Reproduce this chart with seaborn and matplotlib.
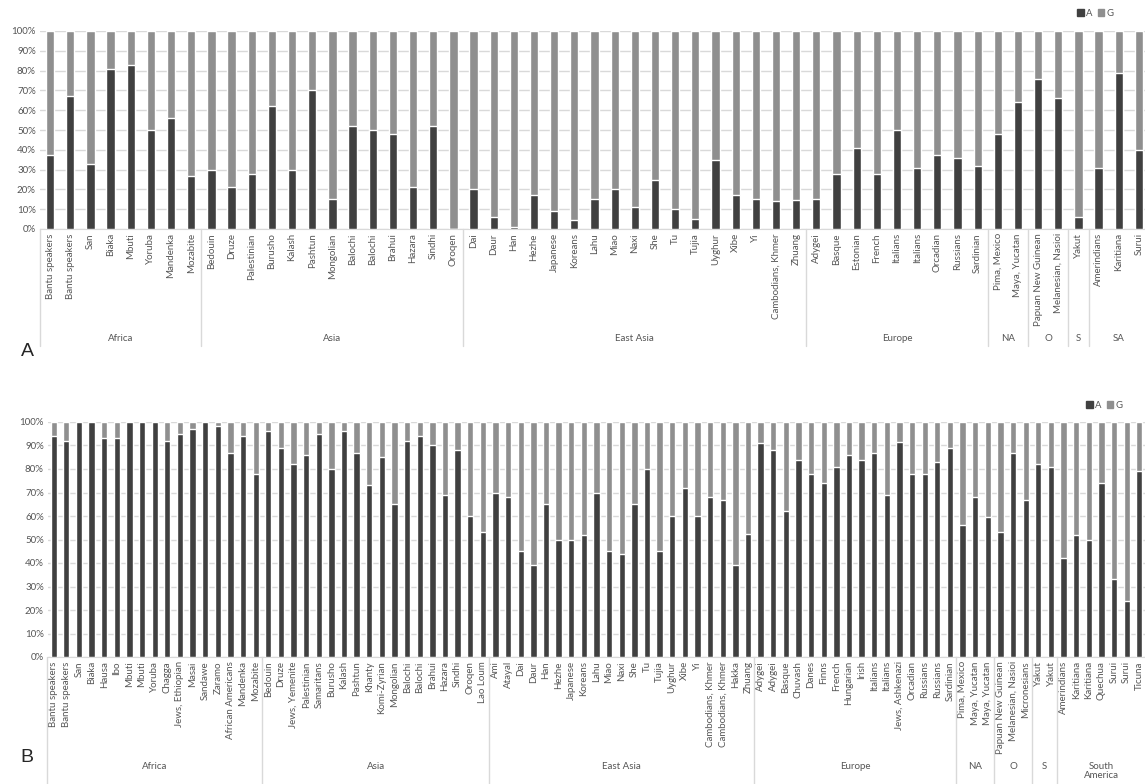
import pandas as pd
import numpy as np
import matplotlib.pyplot as plt
import seaborn as sns
from matplotlib.patches import Patch
from matplotlib.transforms import blended_transform_factory

# ---------------- Panel A data ----------------
a_groups = ["Africa", "Asia", "East Asia", "Europe", "NA", "O", "S", "SA"]
a_group_sizes = [8, 13, 17, 9, 2, 2, 1, 3]
a_labels = [
    "Bantu speakers", "Bantu speakers", "San", "Biaka", "Mbuti", "Yoruba", "Mandenka", "Mozabite",
    "Bedouin", "Druze", "Palestinian", "Burusho", "Kalash", "Pashtun", "Mongolian", "Balochi",
    "Balochi", "Brahui", "Hazara", "Sindhi", "Oroqen",
    "Dai", "Daur", "Han", "Hezhe", "Japanese", "Koreans", "Lahu", "Miao", "Naxi", "She", "Tu",
    "Tujia", "Uyghur", "Xibe", "Yi", "Cambodians, Khmer", "Zhuang",
    "Adygei", "Basque", "Estonian", "French", "Italians", "Italians", "Orcadian", "Russians", "Sardinian",
    "Pima, Mexico", "Maya, Yucatan",
    "Papuan New Guinean", "Melanesian, Nasioi",
    "Yakut",
    "Amerindians", "Karitiana", "Surui",
]
a_values = [
    37.5, 67, 33, 81, 83, 50, 56, 27,
    30, 21, 28, 62, 30, 70, 15, 52, 50, 48, 21, 52, 0,
    20, 6, 1, 17, 9, 4.5, 15, 20, 11, 25, 10, 5, 35, 17, 15, 14, 14.5,
    15, 28, 41, 28, 50, 31, 37.5, 36, 32,
    48, 64,
    76, 66,
    6,
    31, 79, 40,
]

# ---------------- Panel B data ----------------
b_groups = ["Africa", "Asia", "East Asia", "Europe", "NA", "O", "S", "South\nAmerica"]
b_group_sizes = [17, 18, 21, 16, 3, 3, 2, 7]
b_labels = [
    "Bantu speakers", "Bantu speakers", "San", "Biaka", "Hausa", "Ibo", "Mbuti", "Mbuti", "Yoruba",
    "Chagga", "Jews, Ethiopian", "Masai", "Sandawe", "Zaramo", "African Americans", "Mandenka", "Mozabite",
    "Bedouin", "Druze", "Jews, Yemenite", "Palestinian", "Samaritans", "Burusho", "Kalash", "Pashtun",
    "Khanty", "Komi-Zyrian", "Mongolian", "Balochi", "Balochi", "Brahui", "Hazara", "Sindhi", "Oroqen",
    "Lao Loum",
    "Ami", "Atayal", "Dai", "Daur", "Han", "Hezhe", "Japanese", "Koreans", "Lahu", "Miao", "Naxi",
    "She", "Tu", "Tujia", "Uyghur", "Xibe", "Yi", "Cambodians, Khmer", "Cambodians, Khmer", "Hakka", "Zhuang",
    "Adygei", "Adygei", "Basque", "Chuvash", "Danes", "Finns", "French", "Hungarian", "Irish",
    "Italians", "Italians", "Jews, Ashkenazi", "Orcadian", "Russians", "Russians", "Sardinian",
    "Pima, Mexico", "Maya, Yucatan", "Maya, Yucatan",
    "Papuan New Guinean", "Melanesian, Nasioi", "Micronesians",
    "Yakut", "Yakut",
    "Amerindians", "Karitiana", "Karitiana", "Quechua", "Surui", "Surui", "Ticuna",
]
b_values = [
    94, 92, 100, 100, 93, 93, 100, 100, 100, 92, 95, 97, 100, 98.5, 87, 94, 78,
    96, 89, 82, 86, 95, 80, 96, 87, 73, 85, 65, 92, 94, 90, 69, 88, 60, 53,
    70, 68, 45, 39, 65, 50, 50, 52, 70, 45, 44, 65, 80, 45, 60, 72, 60, 68, 67, 39, 52.5,
    91, 88, 62, 84, 78, 74, 81, 86, 84, 87, 69, 91.5, 78, 78, 83, 89,
    56, 68, 59.5,
    53, 87, 67,
    82, 81,
    42, 52, 50, 74, 33, 24, 79,
]

DARK = "#404040"
LIGHT = "#8f8f8f"
GRID = "#d9d9d9"
TXT = "#555555"

sns.set_style("white")
plt.rcParams["font.family"] = ["Lato", "DejaVu Sans"]

fig = plt.figure(figsize=(11.45, 7.84), dpi=100)


def draw_panel(ax, labels, values, groups, sizes, bar_w, xlim, grp_text_y, grp_line_y, fs):
    n = len(labels)
    df = pd.DataFrame({
        "key": [str(i) for i in range(n)],
        "A": values,
        "total": [100] * n,
    })
    sns.barplot(data=df, x="key", y="total", color=LIGHT, width=bar_w,
                saturation=1, ax=ax, zorder=2)
    sns.barplot(data=df, x="key", y="A", color=DARK, width=bar_w,
                saturation=1, ax=ax, zorder=3)
    ax.set_ylim(0, 100)
    ax.set_xlim(*xlim)
    ax.set_yticks(np.arange(0, 101, 10))
    ax.set_yticklabels([f"{v}%" for v in range(0, 101, 10)], fontsize=fs, color=TXT)
    ax.set_xticks(range(n))
    ax.set_xticklabels(labels, rotation=90, fontsize=fs, color=TXT)
    ax.tick_params(axis="both", length=0, pad=3)
    ax.set_xlabel("")
    ax.set_ylabel("")
    ax.grid(axis="y", color=GRID, linewidth=1, zorder=0)
    ax.set_axisbelow(True)
    for s in ["left", "right", "top"]:
        ax.spines[s].set_visible(False)
    ax.spines["bottom"].set_color(GRID)

    # multi-level category axis
    tr = blended_transform_factory(ax.transData, ax.transAxes)
    start = 0
    bounds = [-0.5]
    for g, sz in zip(groups, sizes):
        center = start + (sz - 1) / 2
        ax.text(center, grp_text_y, g, transform=tr, ha="center", va="top",
                fontsize=fs, color=TXT, linespacing=1.1)
        start += sz
        bounds.append(start - 0.5)
    for b in bounds[:-1]:
        ax.plot([b, b], [0, grp_line_y], transform=tr, color=GRID,
                linewidth=1, clip_on=False)


# Panel A
axA = fig.add_axes([40 / 1145, 1 - 229 / 784, 1 - 40 / 1145, 198 / 784])
draw_panel(axA, a_labels, a_values, a_groups, a_group_sizes, 0.41,
           (-0.5, 54.3), -0.53, -0.59, 7)

# Panel B
axB = fig.add_axes([48 / 1145, 1 - 657 / 784, 1 - 48 / 1145, 235 / 784])
draw_panel(axB, b_labels, b_values, b_groups, b_group_sizes, 0.5,
           (-0.45, 86.45), -0.445, -0.6, 7)

# legends
handles = [Patch(color=DARK, label="A"), Patch(color=LIGHT, label="G")]
for ax, pos in [(axA, (1095 / 1145, 1 - 13 / 784)), (axB, (1104 / 1145, 1 - 405 / 784))]:
    ax.legend(handles=handles, loc="center", bbox_to_anchor=pos,
              bbox_transform=fig.transFigure, ncol=2, frameon=False,
              fontsize=6.8, handlelength=0.7, handleheight=0.7,
              handletextpad=0.2, columnspacing=0.6, labelcolor=TXT)

# panel letters
fig.text(27 / 1145, 1 - 351 / 784, "A", fontsize=14, ha="center", va="center",
         family="Liberation Sans")
fig.text(27 / 1145, 1 - 758 / 784, "B", fontsize=14, ha="center", va="center",
         family="Liberation Sans")

fig.savefig("out.png", dpi=100, facecolor="white")
